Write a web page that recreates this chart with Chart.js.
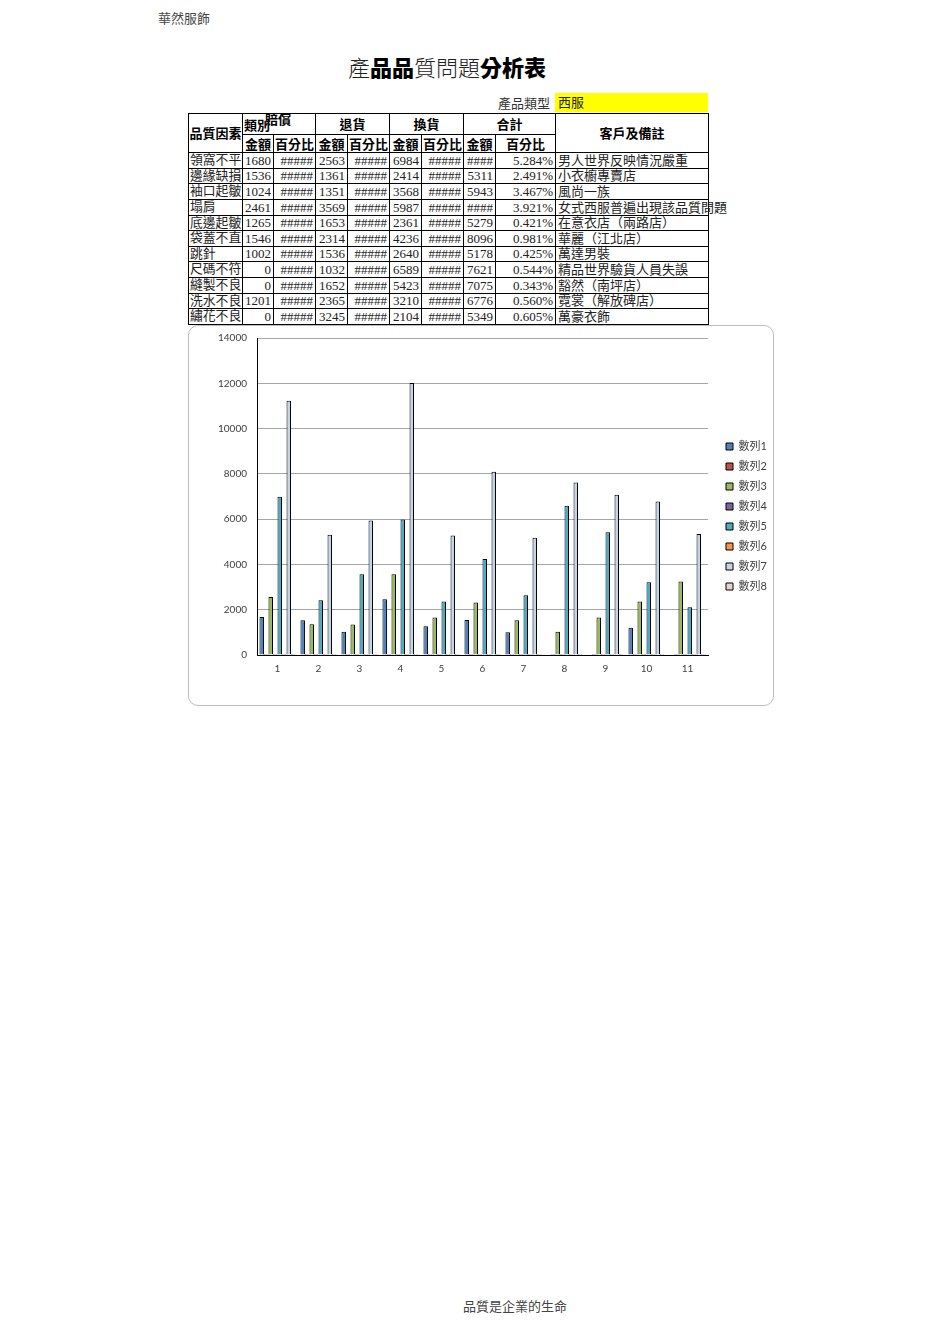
<!DOCTYPE html>
<html><head><meta charset="utf-8">
<script src="https://cdn.jsdelivr.net/npm/chart.js@4.4.0/dist/chart.umd.min.js"></script>
<style>
body{margin:0;background:#fff;width:936px;height:1323px;position:relative;overflow:hidden;font-family:"Noto Sans CJK TC",sans-serif;}
.abs{position:absolute;white-space:nowrap;}
.cell{position:absolute;box-sizing:border-box;border-right:1px solid #000;border-bottom:1px solid #000;overflow:hidden;white-space:nowrap;font-family:"Liberation Serif","Noto Sans CJK TC",serif;font-size:13px;color:#222;line-height:15px;}
.hd{font-family:"Noto Sans CJK TC",sans-serif;font-weight:700;color:#000;text-align:center;}
.r{text-align:right;padding-right:2px;}
.l{text-align:left;padding-left:2px;}
.f{text-align:left;padding-left:1px;font-size:12.8px;}
.vis{overflow:visible;}
#chartBox{position:absolute;left:188px;top:325px;width:586px;height:381px;box-sizing:border-box;border:1px solid #BDBDBD;border-radius:10px;background:#fff;}
#c{position:absolute;left:0;top:0;}
</style></head><body>
<script>
// ---------- data ----------
const categories = ['1','2','3','4','5','6','7','8','9','10','11'];
const factors = ['領窩不平','邊緣缺損','袖口起皺','塌肩','底邊起皺','袋蓋不直','跳針','尺碼不符','縫製不良','洗水不良','繡花不良'];
const compAmt = [1680,1536,1024,2461,1265,1546,1002,0,0,1201,0];
const compPct = [0.132,0.121,0.081,0.194,0.099,0.122,0.079,0,0,0.094,0];
const returnAmt = [2563,1361,1351,3569,1653,2314,1536,1032,1652,2365,3245];
const returnPct = [0.113,0.060,0.060,0.158,0.073,0.102,0.068,0.046,0.073,0.104,0.143];
const exchAmt = [6984,2414,3568,5987,2361,4236,2640,6589,5423,3210,2104];
const exchPct = [0.153,0.053,0.078,0.132,0.052,0.093,0.058,0.145,0.119,0.071,0.046];
const totalAmt = [11227,5311,5943,12017,5279,8096,5178,7621,7075,6776,5349];
const totalPct = [0.05284,0.02491,0.03467,0.03921,0.00421,0.00981,0.00425,0.00544,0.00343,0.00560,0.00605];
const totalPctText = ['5.284%','2.491%','3.467%','3.921%','0.421%','0.981%','0.425%','0.544%','0.343%','0.560%','0.605%'];
const remarks = ['男人世界反映情況嚴重','小衣櫥專賣店','風尚一族','女式西服普遍出現該品質問題','在意衣店（兩路店）','華麗（江北店）','萬達男裝','精品世界驗貨人員失誤','豁然（南坪店）','霓裳（解放碑店）','萬豪衣飾'];
const seriesNames = ['數列1','數列2','數列3','數列4','數列5','數列6','數列7','數列8'];
const yTicks = [0,2000,4000,6000,8000,10000,12000,14000];
</script>

<div class="abs" style="left:158px;top:8px;font-size:13px;color:#444;">華然服飾</div>
<div class="abs" style="left:348px;top:52px;font-size:22px;line-height:28px;color:#222;letter-spacing:0px;">
<span style="font-weight:300">產</span><span style="font-weight:900;color:#000">品品</span><span style="font-weight:300">質問題</span><span style="font-weight:900;color:#000">分析表</span></div>
<div class="abs" style="left:480px;top:93px;width:70px;text-align:right;font-size:13px;line-height:19px;color:#333;">產品類型</div>
<div class="abs" style="left:555px;top:93px;width:153px;height:19px;background:#FFFF00;font-family:'Liberation Serif','Noto Sans CJK TC',serif;font-size:13px;line-height:19px;padding-left:3px;box-sizing:border-box;color:#222;">西服</div>

<div id="table"></div>
<div id="chartBox"><canvas id="c" width="584" height="379"></canvas></div>
<div class="abs" style="left:463px;top:1296px;font-size:13px;color:#444;">品質是企業的生命</div>

<script>
// ---------- table ----------
const colX = [188,242,273,315,347,389,421,463,495,555,708];
const hY = [113,134,152];
const rowH = 15.64;
const tbl = document.getElementById('table');
const outer = document.createElement('div');
outer.style.cssText = `position:absolute;left:${colX[0]}px;top:${hY[0]}px;width:${colX[10]-colX[0]+1}px;height:${hY[2]+rowH*11-hY[0]+1}px;border-left:1px solid #000;border-top:1px solid #000;box-sizing:border-box;`;
tbl.appendChild(outer);
function cell(c0,c1,y0,y1,text,cls){
  const d=document.createElement('div');
  d.className='cell '+(cls||'');
  const x0=colX[c0], x1=colX[c1];
  d.style.left=(x0+1)+'px'; d.style.top=(y0+1)+'px';
  d.style.width=(x1-x0)+'px'; d.style.height=(y1-y0)+'px';
  d.style.lineHeight=(y1-y0-1)+'px';
  d.textContent=text;
  tbl.appendChild(d);
  return d;
}
cell(0,1,hY[0],hY[2],'品質因素','hd');
cell(1,3,hY[0],hY[1],'','hd');
cell(3,5,hY[0],hY[1],'退貨','hd');
cell(5,7,hY[0],hY[1],'換貨','hd');
cell(7,9,hY[0],hY[1],'合計','hd');
cell(9,10,hY[0],hY[2],'客戶及備註','hd');
const sub=['金額','百分比','金額','百分比','金額','百分比','金額','百分比'];
for(let i=0;i<8;i++) cell(i+1,i+2,hY[1],hY[2],sub[i],'hd');
// overlapping "類別" / "賠償" as in the reference
const lb=document.createElement('div');lb.className='abs';
lb.style.cssText='left:244px;top:117px;font-size:13px;font-weight:700;line-height:15px;color:#000;';lb.textContent='類別';tbl.appendChild(lb);
const lb2=document.createElement('div');lb2.className='abs';
lb2.style.cssText='left:265px;top:111px;font-size:13px;font-weight:700;line-height:15px;color:#000;';lb2.textContent='賠償';tbl.appendChild(lb2);

for(let i=0;i<11;i++){
  const y0=Math.round(hY[2]+rowH*i), y1=Math.round(hY[2]+rowH*(i+1));
  cell(0,1,y0,y1,factors[i],'f');
  cell(1,2,y0,y1,String(compAmt[i]),'r');
  cell(2,3,y0,y1,'#####','r');
  cell(3,4,y0,y1,String(returnAmt[i]),'r');
  cell(4,5,y0,y1,'#####','r');
  cell(5,6,y0,y1,String(exchAmt[i]),'r');
  cell(6,7,y0,y1,'#####','r');
  cell(7,8,y0,y1,totalAmt[i]>=10000?'####':String(totalAmt[i]),'r');
  cell(8,9,y0,y1,totalPctText[i],'r');
  cell(9,10,y0,y1,remarks[i],'l vis');
}

// ---------- chart ----------
const FONT = "'Lato','Noto Sans CJK TC',sans-serif";
const colors = ['#4F81BD','#C0504D','#9BBB59','#8064A2','#4BACC6','#F79646','#C6D4E8','#E8D3D3'];
const seriesData = [compAmt,compPct,returnAmt,returnPct,exchAmt,exchPct,totalAmt,totalPct];
const datasets = seriesData.map((d,i)=>({
  label: seriesNames[i], data: d, backgroundColor: colors[i], borderColor:'#000', borderWidth:1,
  minBarLength: (i%2===1)?1:0
}));
const legendPlugin = {
  id:'legendFix',
  beforeLayout(chart){
    const lg = chart.legend;
    if(lg && !lg._wrapped){
      const orig = lg.fit;
      lg.fit = function(){ orig.call(this); this.width = 65; };
      lg._wrapped = true;
    }
  },
  afterLayout(chart){
    const lg = chart.legend;
    if(lg){ lg.left += 9; lg.right += 9; lg.top -= 5; lg.bottom -= 5; }
  }
};
new Chart(document.getElementById('c'), {
  type:'bar',
  data:{labels:categories, datasets},
  options:{
    responsive:false, animation:false, devicePixelRatio:1,
    layout:{padding:{top:12,left:0,right:0,bottom:0}},
    datasets:{bar:{barPercentage:1, categoryPercentage:0.88}},
    plugins:{
      legend:{position:'right', labels:{boxWidth:7, boxHeight:7, padding:9, color:'#404040', font:{size:11, family:FONT}}},
      tooltip:{enabled:false}
    },
    scales:{
      x:{grid:{display:false, drawTicks:false}, border:{color:'#000', width:1},
         ticks:{padding:8, color:'#404040', font:{size:10, family:FONT}},
         afterFit(s){ s.height = 50; s.paddingLeft = 0; s.paddingRight = 0; }},
      y:{min:0, max:14000, afterBuildTicks(s){ s.ticks = yTicks.map(v=>({value:v})); },
         grid:{color:'#A6A6A6', drawTicks:false}, border:{color:'#000', width:1},
         ticks:{padding:10, color:'#404040', font:{size:10, family:FONT}, callback:(v)=>String(v)},
         afterFit(s){ s.width = 68; s.paddingTop = 0; s.paddingBottom = 0; }}
    }
  },
  plugins:[legendPlugin]
});
</script>
</body></html>
